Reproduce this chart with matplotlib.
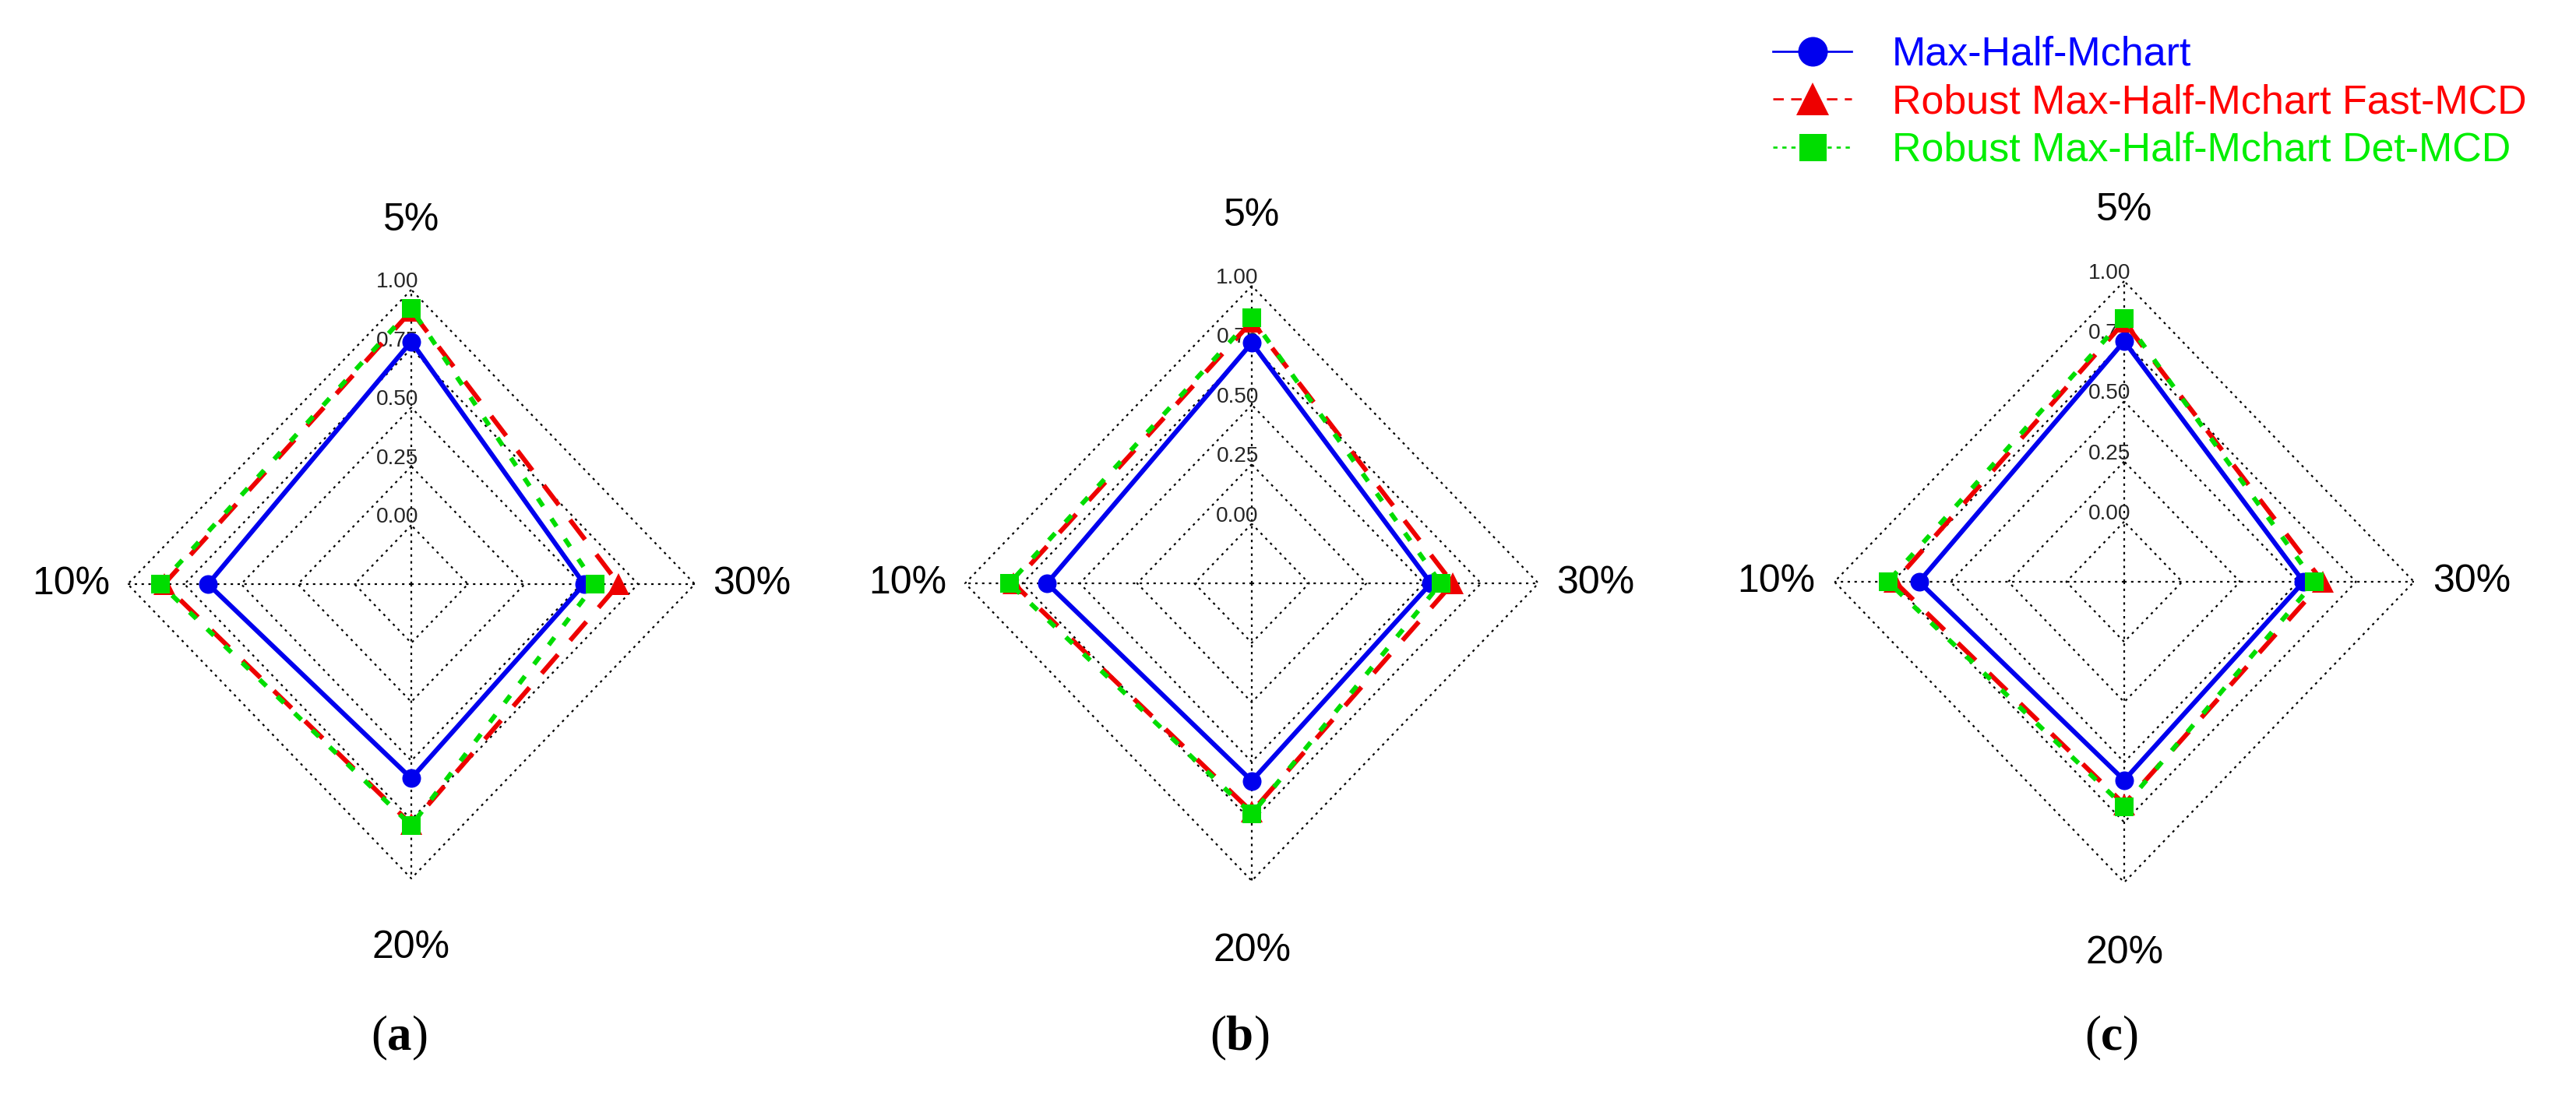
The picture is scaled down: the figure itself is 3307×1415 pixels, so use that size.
import matplotlib
matplotlib.use('Agg')
import matplotlib.pyplot as plt
from matplotlib.lines import Line2D
import numpy as np

plt.rcParams['mathtext.fontset'] = 'custom'
plt.rcParams['mathtext.rm'] = 'Liberation Serif'
plt.rcParams['mathtext.bf'] = 'Liberation Serif:bold'

# ---------------- data ----------------
categories = ['5%', '10%', '20%', '30%']
series_names = ['Max-Half-Mchart',
                'Robust Max-Half-Mchart Fast-MCD',
                'Robust Max-Half-Mchart Det-MCD']
panel_labels = ['a', 'b', 'c']
tick_values = [0.00, 0.25, 0.50, 0.75, 1.00]
tick_labels = ['0.00', '0.25', '0.50', '0.75', '1.00']

# values ordered as categories: 5%, 10%, 20%, 30%
max_half_a = [0.78, 0.646, 0.575, 0.512]
fast_mcd_a = [0.91, 0.84, 0.77, 0.665]
det_mcd_a = [0.92, 0.856, 0.775, 0.56]

max_half_b = [0.76, 0.643, 0.58, 0.531]
fast_mcd_b = [0.85, 0.79, 0.71, 0.626]
det_mcd_b = [0.865, 0.807, 0.72, 0.574]

max_half_c = [0.75, 0.635, 0.575, 0.524]
fast_mcd_c = [0.83, 0.74, 0.675, 0.606]
det_mcd_c = [0.845, 0.769, 0.685, 0.571]

panels = [
    (max_half_a, fast_mcd_a, det_mcd_a),
    (max_half_b, fast_mcd_b, det_mcd_b),
    (max_half_c, fast_mcd_c, det_mcd_c),
]

# ---------------- style ----------------
W, H, DPI = 3307, 1415, 100
PX = 72.0 / DPI  # points per pixel

colors = ['#0000EE', '#EE0000', '#00DD00']
text_colors = ['#0000FF', '#FF0000', '#00EE00']
markers = ['o', '^', 's']
plot_msize = [24, 28, 24]        # px
leg_msize = [38, 42, 35]         # px
line_lw = 6.0                    # px
plot_dashes = [None, (5.3, 4.0), (2.0, 3.2)]
leg_lw = 2.7
leg_dashes = [None, (5.0, 3.5), (2.0, 2.3)]

# panel geometry in pixels: centre x, centre y, radius x, radius y
geometry = [
    (528, 750, 364, 378),
    (1607, 749, 368, 382),
    (2727, 747, 372, 386),
]

seg = 4
n = len(categories)
theta = np.pi / 2 + np.arange(n) * 2 * np.pi / n


def to_radius(v):
    return (np.asarray(v, dtype=float) * seg + 1) / (seg + 1)


fig = plt.figure(figsize=(W / DPI, H / DPI), dpi=DPI)
fig.patch.set_facecolor('white')

for p, (series, (cx, cy, rx, ry)) in enumerate(zip(panels, geometry)):
    ax = fig.add_axes([(cx - rx) / W, 1 - (cy + ry) / H, 2 * rx / W, 2 * ry / H])
    ax.set_xlim(-1, 1)
    ax.set_ylim(-1, 1)
    ax.axis('off')

    grid_kw = dict(color='black', lw=2.2 * PX, ls=(0, (1.4, 2.6)), clip_on=False, zorder=1)
    # rings
    for tv in tick_values:
        r = to_radius(tv)
        xs = np.append(r * np.cos(theta), r * np.cos(theta[0]))
        ys = np.append(r * np.sin(theta), r * np.sin(theta[0]))
        ax.plot(xs, ys, **grid_kw)
    # spokes
    for t in theta:
        ax.plot([0, np.cos(t)], [0, np.sin(t)], **grid_kw)
    # axis value labels
    for tv, tl in zip(tick_values, tick_labels):
        ax.text(-0.05, to_radius(tv) + 10.0 / ry, tl, ha='center', va='center',
                fontsize=28 * PX, color='#262626', family='Liberation Sans', zorder=2)
    # category labels
    for t, lab in zip(theta, categories):
        fx = 1.2 if abs(np.cos(t)) > 0.5 else 1.0
        fy = 1.235 if abs(np.sin(t)) > 0.5 else 1.0
        ax.text(fx * np.cos(t), fy * np.sin(t), lab, ha='center', va='center',
                fontsize=50 * PX, color='black', family='Liberation Sans')

    # series
    for k, vals in enumerate(series):
        r = to_radius(vals)
        xs = np.append(r * np.cos(theta), r[0] * np.cos(theta[0]))
        ys = np.append(r * np.sin(theta), r[0] * np.sin(theta[0]))
        ln, = ax.plot(xs, ys, color=colors[k], lw=line_lw * PX, clip_on=False,
                      zorder=3 + k, solid_joinstyle='miter', dash_capstyle='butt')
        if plot_dashes[k] is not None:
            ln.set_linestyle((0, plot_dashes[k]))
        ax.plot(r * np.cos(theta), r * np.sin(theta), ls='none', marker=markers[k],
                ms=plot_msize[k] * PX, color=colors[k], mec=colors[k], mew=0,
                clip_on=False, zorder=3 + k)

    # panel label (a), (b), (c)
    fig.text((cx - 16) / W, 1 - 1333 / H, r'($\mathbf{%s}$)' % panel_labels[p],
             ha='center', va='center', fontsize=63 * PX, family='Liberation Serif')

# legend
handles = []
for k in range(3):
    h = Line2D([0], [0], color=colors[k], lw=leg_lw * PX, marker=markers[k],
               ms=leg_msize[k] * PX, mew=0, dash_capstyle='butt')
    if leg_dashes[k] is not None:
        h.set_linestyle((0, leg_dashes[k]))
    handles.append(h)

fs_leg = 52
leg = fig.legend(handles, series_names, loc='upper left',
                 bbox_to_anchor=(2276 / W, 1 - 46 / H), frameon=False,
                 borderpad=0, borderaxespad=0, handlelength=101 / fs_leg,
                 handletextpad=52 / fs_leg, labelspacing=0.24, numpoints=1,
                 prop={'family': 'Liberation Sans', 'size': fs_leg * PX})
for t, c in zip(leg.get_texts(), text_colors):
    t.set_color(c)

fig.savefig('out.png', dpi=DPI, facecolor='white')
